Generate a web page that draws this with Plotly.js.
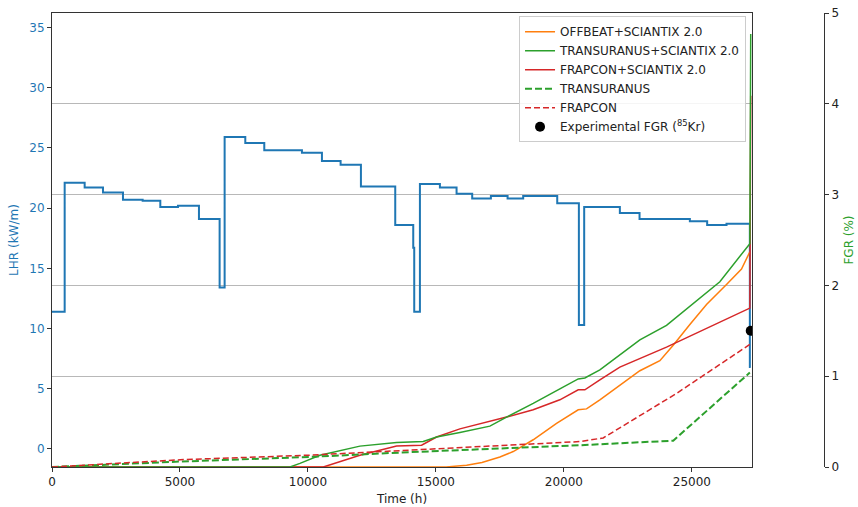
<!DOCTYPE html>
<html>
<head>
<meta charset="utf-8">
<script src="https://cdn.plot.ly/plotly-3.0.1.min.js"></script>
<style>html,body{margin:0;padding:0;background:#fff;}#chart{width:858px;height:507px;}</style>
</head>
<body>
<div id="chart"></div>
<script>
// Linear heat rate history (step function)
const lhrTime = [0, 495, 1276, 1992, 2773, 3542, 4232, 4922, 5742, 6549, 6745, 7552, 8294, 9766, 10547, 11276, 12070, 13411, 14114, 14153, 14375, 15156, 15807, 16418, 17148, 17800, 18410, 19740, 20586, 20793, 22187, 22956, 24922, 25598, 26354, 27266, 27300];
const lhrValue = [11.4, 22.1, 21.7, 21.3, 20.7, 20.6, 20.1, 20.2, 19.1, 13.4, 25.9, 25.4, 24.8, 24.6, 23.9, 23.6, 21.8, 18.6, 16.7, 11.4, 22.0, 21.7, 21.2, 20.8, 21.0, 20.8, 21.0, 20.4, 10.3, 20.1, 19.6, 19.1, 18.9, 18.6, 18.7, 6.8, 6.8];

// OFFBEAT+SCIANTIX 2.0
const offTime = [0, 15400, 16200, 16800, 17500, 18021, 18801, 19714, 20560, 20885, 21406, 22187, 22969, 23750, 24271, 24922, 25573, 26354, 26940, 27266];
const offFgr  = [0, 0, 0.02, 0.05, 0.11, 0.17, 0.30, 0.48, 0.63, 0.64, 0.74, 0.90, 1.06, 1.17, 1.34, 1.57, 1.79, 2.01, 2.18, 2.37];

// TRANSURANUS+SCIANTIX 2.0
const tuTime = [0, 9300, 9687, 10469, 12031, 13464, 14505, 15026, 15937, 17109, 17760, 18801, 19843, 20560, 20820, 21406, 21926, 22969, 24010, 25052, 26094, 27266, 27300];
const tuFgr  = [0, 0, 0.04, 0.13, 0.23, 0.27, 0.28, 0.33, 0.38, 0.45, 0.55, 0.70, 0.86, 0.97, 0.98, 1.07, 1.18, 1.40, 1.56, 1.80, 2.04, 2.46, 4.77];

// FRAPCON+SCIANTIX 2.0
const fcTime = [0, 10600, 12031, 13464, 14440, 15026, 15937, 17109, 17760, 18801, 19843, 20560, 20820, 21406, 22187, 24010, 25313, 27266, 27300];
const fcFgr  = [0, 0, 0.13, 0.23, 0.24, 0.33, 0.42, 0.50, 0.55, 0.63, 0.74, 0.85, 0.85, 0.96, 1.10, 1.32, 1.49, 1.75, 4.09];

// TRANSURANUS (standalone)
const tuStdTime = [0, 5013, 10026, 13672, 20625, 24271, 27266];
const tuStdFgr  = [0, 0.06, 0.11, 0.16, 0.24, 0.29, 1.04];

// FRAPCON (standalone)
const fcStdTime = [0, 5013, 10026, 13672, 20625, 21536, 24401, 27266];
const fcStdFgr  = [0, 0.08, 0.13, 0.18, 0.28, 0.32, 0.81, 1.35];

// Experimental FGR (85Kr)
const expTime = [27300];
const expFgr  = [1.50];

const xTicks = [0, 5000, 10000, 15000, 20000, 25000];
const lhrTicks = [0, 5, 10, 15, 20, 25, 30, 35];
const fgrTicks = [0, 1, 2, 3, 4, 5];

const C = {blue:'#1f77b4', orange:'#ff7f0e', green:'#2ca02c', red:'#d62728'};
const FONT = 'DejaVu Sans, sans-serif';

const traces = [
  {x: lhrTime, y: lhrValue, type:'scatter', mode:'lines', line:{shape:'hv', color:C.blue, width:2}, yaxis:'y', showlegend:false, hoverinfo:'skip'},
  {x: offTime, y: offFgr, type:'scatter', mode:'lines', name:'OFFBEAT+SCIANTIX 2.0', line:{color:C.orange, width:1.5}, yaxis:'y2', legendrank:1},
  {x: fcTime, y: fcFgr, type:'scatter', mode:'lines', name:'FRAPCON+SCIANTIX 2.0', line:{color:C.red, width:1.5}, yaxis:'y2', legendrank:3},
  {x: tuTime, y: tuFgr, type:'scatter', mode:'lines', name:'TRANSURANUS+SCIANTIX 2.0', line:{color:C.green, width:1.5}, yaxis:'y2', legendrank:2},
  {x: tuStdTime, y: tuStdFgr, type:'scatter', mode:'lines', name:'TRANSURANUS', line:{color:C.green, width:2, dash:'7px,3px'}, yaxis:'y2', legendrank:4},
  {x: fcStdTime, y: fcStdFgr, type:'scatter', mode:'lines', name:'FRAPCON', line:{color:C.red, width:1.5, dash:'6px,3px'}, yaxis:'y2', legendrank:5},
  {x: expTime, y: expFgr, type:'scatter', mode:'markers', name:'Experimental FGR (<sup>85</sup>Kr)', marker:{color:'#000', size:10}, yaxis:'y2', legendrank:6, cliponaxis:true}
];

const layout = {
  width: 858, height: 507,
  margin: {l: 52, r: 34, t: 13, b: 40},
  paper_bgcolor: '#fff', plot_bgcolor: '#fff',
  font: {family: FONT, size: 12, color: '#222'},
  showlegend: true,
  legend: {
    x: 0.899, xanchor: 'right', y: 0.993, yanchor: 'top',
    bgcolor: 'rgba(255,255,255,0.85)', bordercolor: '#cccccc', borderwidth: 1,
    font: {family: FONT, size: 12, color: '#222'},
    itemwidth: 30, tracegroupgap: 0
  },
  xaxis: {
    domain: [0, 700/772],
    range: [0, 27350],
    tickvals: xTicks,
    ticktext: xTicks.map(String),
    ticks: 'outside', ticklen: 4, tickcolor: '#333', tickwidth: 1,
    showline: true, linecolor: '#333', linewidth: 1, mirror: true,
    showgrid: false, zeroline: false,
    tickfont: {family: FONT, size: 12, color: '#222'},
    title: {text: 'Time (h)', font: {family: FONT, size: 12, color: '#222'}, standoff: 6}
  },
  yaxis: {
    range: [-1.5, 36.2],
    tickvals: lhrTicks,
    ticks: 'outside', ticklen: 4, tickcolor: '#333', tickwidth: 1,
    showline: true, linecolor: '#333', linewidth: 1, mirror: true,
    showgrid: false, zeroline: false,
    tickfont: {family: FONT, size: 12, color: C.blue},
    title: {text: 'LHR (kW/m)', font: {family: FONT, size: 12, color: C.blue}, standoff: 8}
  },
  yaxis2: {
    overlaying: 'y', side: 'right', anchor: 'free', position: 1,
    range: [0, 5],
    tickvals: fgrTicks,
    ticks: 'outside', ticklen: 4, tickcolor: '#333', tickwidth: 1,
    showline: true, linecolor: '#333', linewidth: 1,
    showgrid: true, gridcolor: '#b8b8b8', gridwidth: 1, zeroline: false,
    tickfont: {family: FONT, size: 12, color: '#222'},
    title: {text: 'FGR (%)', font: {family: FONT, size: 12, color: C.green}, standoff: 6}
  }
};

Plotly.newPlot('chart', traces, layout, {displayModeBar: false, staticPlot: true});
</script>
</body>
</html>
